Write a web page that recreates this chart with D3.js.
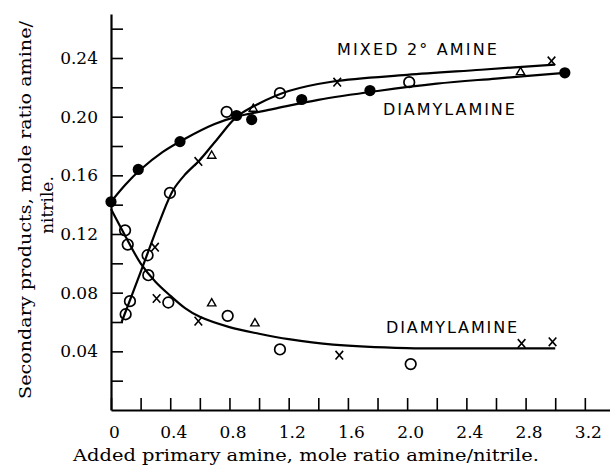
<!DOCTYPE html>
<html>
<head>
<meta charset="utf-8">
<script src="https://d3js.org/d3.v7.min.js"></script>
<style>
  body { margin: 0; background: #fff; }
  svg { display: block; }
</style>
</head>
<body>
<svg></svg>
<script>
// axis ticks
var xTickValues = [0, 0.2, 0.4, 0.6, 0.8, 1.0, 1.2, 1.4, 1.6, 1.8, 2.0, 2.2, 2.4, 2.6, 2.8, 3.0, 3.2];
var xTickLabels = ["0", "", "0.4", "", "0.8", "", "1.2", "", "1.6", "", "2.0", "", "2.4", "", "2.8", "", "3.2"];
var yTickValues = [0.02, 0.04, 0.06, 0.08, 0.10, 0.12, 0.14, 0.16, 0.18, 0.20, 0.22, 0.24, 0.26];
var yTickLabels = ["", "0.04", "", "0.08", "", "0.12", "", "0.16", "", "0.20", "", "0.24", ""];

// diamylamine (upper, filled circles)
var diaUpX = [0, 0.184, 0.466, 0.848, 0.95, 1.288, 1.749, 3.065];
var diaUpY = [0.142, 0.164, 0.183, 0.2008, 0.198, 0.2117, 0.2178, 0.2299];
var diaUpCurveX = [0, 0.1, 0.2, 0.35, 0.5, 0.7, 0.85, 1.1, 1.4, 1.8, 2.2, 2.6, 3.065];
var diaUpCurveY = [0.142, 0.154, 0.164, 0.176, 0.185, 0.195, 0.2, 0.2053, 0.2115, 0.2175, 0.2225, 0.226, 0.2299];

// mixed 2° amine (rising curve)
var mixCircleX = [0.099, 0.128, 0.247, 0.398, 0.781, 1.141, 2.014];
var mixCircleY = [0.0653, 0.0742, 0.1055, 0.148, 0.2033, 0.216, 0.2235];
var mixCrossX = [0.297, 0.59, 1.528, 2.975];
var mixCrossY = [0.111, 0.1695, 0.2235, 0.238];
var mixTriX = [0.68, 0.961, 2.766];
var mixTriY = [0.1733, 0.2053, 0.2303];
var mixCurveX = [0.072, 0.2, 0.33, 0.42, 0.5, 0.6, 0.72, 0.85, 1.0, 1.2, 1.5, 2.0, 2.5, 2.997];
var mixCurveY = [0.06, 0.094, 0.129, 0.15, 0.1605, 0.1705, 0.185, 0.2, 0.209, 0.2175, 0.224, 0.2285, 0.232, 0.2355];

// diamylamine (lower, falling curve)
var diaLowCircleX = [0.095, 0.113, 0.252, 0.387, 0.788, 1.141, 2.024];
var diaLowCircleY = [0.1225, 0.1128, 0.0919, 0.0733, 0.0642, 0.0413, 0.0313];
var diaLowCrossX = [0.308, 0.59, 1.542, 2.773, 2.982];
var diaLowCrossY = [0.076, 0.0606, 0.0374, 0.0454, 0.0465];
var diaLowTriX = [0.68, 0.972];
var diaLowTriY = [0.0726, 0.059];
var diaLowCurveX = [0, 0.1, 0.2, 0.3, 0.4, 0.5, 0.6, 0.8, 1.0, 1.2, 1.5, 2.0, 2.5, 3.0];
var diaLowCurveY = [0.137, 0.118, 0.1, 0.0875, 0.078, 0.0695, 0.0635, 0.0565, 0.052, 0.0483, 0.0446, 0.0422, 0.042, 0.042];

var curveLabels = ["MIXED 2° AMINE", "DIAMYLAMINE", "DIAMYLAMINE"];

var svgWidth = 610, svgHeight = 476;

var svg = d3.select("svg")
    .attr("width", svgWidth)
    .attr("height", svgHeight);

var x = d3.scaleLinear().domain([0, 3.37]).range([111, 610]);
var y = d3.scaleLinear().domain([0, 0.27]).range([410, 14]);

function pairs(xs, ys) {
    return xs.map(function(v, i) { return [v, ys[i]]; });
}

var serif = "'DejaVu Serif', serif";
var sans = "'DejaVu Sans', sans-serif";

// x axis, ticks pointing inwards
var xAxis = svg.append("g")
    .attr("transform", "translate(0," + y(0) + ")")
    .call(d3.axisBottom(x)
        .tickValues(xTickValues)
        .tickSize(-12)
        .tickSizeOuter(0)
        .tickPadding(16)
        .tickFormat(function(d, i) { return xTickLabels[i]; }));

xAxis.select(".domain").attr("stroke-width", 2.2);
xAxis.selectAll(".tick line").attr("stroke-width", 1.6);
xAxis.selectAll(".tick text")
    .attr("x", 3)
    .attr("font-family", serif)
    .attr("font-size", 17)
    .attr("fill", "#000");

// y axis
var yAxis = svg.append("g")
    .attr("transform", "translate(" + x(0) + ",0)")
    .call(d3.axisLeft(y)
        .tickValues(yTickValues)
        .tickSize(-12)
        .tickSizeOuter(0)
        .tickPadding(13)
        .tickFormat(function(d, i) { return yTickLabels[i]; }));

yAxis.select(".domain").attr("stroke-width", 2.2);
yAxis.selectAll(".tick line").attr("stroke-width", 1.6);
yAxis.selectAll(".tick text")
    .attr("font-family", serif)
    .attr("font-size", 17)
    .attr("fill", "#000");

// axis titles
svg.append("text")
    .attr("x", 306)
    .attr("y", 461)
    .attr("text-anchor", "middle")
    .attr("font-family", serif)
    .attr("font-size", 17)
    .attr("textLength", 466)
    .attr("lengthAdjust", "spacingAndGlyphs")
    .text("Added primary amine, mole ratio amine/nitrile.");

svg.append("text")
    .attr("transform", "translate(31,210) rotate(-90)")
    .attr("text-anchor", "middle")
    .attr("font-family", serif)
    .attr("font-size", 17)
    .attr("textLength", 378)
    .attr("lengthAdjust", "spacingAndGlyphs")
    .text("Secondary products, mole ratio amine/");

svg.append("text")
    .attr("transform", "translate(53,205) rotate(-90)")
    .attr("text-anchor", "middle")
    .attr("font-family", serif)
    .attr("font-size", 17)
    .text("nitrile.");

// curves
var line = d3.line()
    .x(function(d) { return x(d[0]); })
    .y(function(d) { return y(d[1]); })
    .curve(d3.curveCatmullRom.alpha(0.5));

[pairs(diaUpCurveX, diaUpCurveY), pairs(mixCurveX, mixCurveY), pairs(diaLowCurveX, diaLowCurveY)]
    .forEach(function(c) {
        svg.append("path")
            .attr("d", line(c))
            .attr("fill", "none")
            .attr("stroke", "#000")
            .attr("stroke-width", 2.2);
    });

// markers
var openCircles = pairs(mixCircleX, mixCircleY).concat(pairs(diaLowCircleX, diaLowCircleY));
svg.selectAll(".open")
    .data(openCircles)
    .enter()
    .append("circle")
    .attr("cx", function(d) { return x(d[0]); })
    .attr("cy", function(d) { return y(d[1]); })
    .attr("r", 5.3)
    .attr("fill", "none")
    .attr("stroke", "#000")
    .attr("stroke-width", 1.7);

svg.selectAll(".filled")
    .data(pairs(diaUpX, diaUpY))
    .enter()
    .append("circle")
    .attr("cx", function(d) { return x(d[0]); })
    .attr("cy", function(d) { return y(d[1]); })
    .attr("r", 5.6)
    .attr("fill", "#000");

var crosses = pairs(mixCrossX, mixCrossY).concat(pairs(diaLowCrossX, diaLowCrossY));
svg.selectAll(".cross")
    .data(crosses)
    .enter()
    .append("path")
    .attr("transform", function(d) { return "translate(" + x(d[0]) + "," + y(d[1]) + ")"; })
    .attr("d", "M-3.8,-4.3L3.8,4.3M-3.8,4.3L3.8,-4.3")
    .attr("stroke", "#000")
    .attr("stroke-width", 1.6);

var tris = pairs(mixTriX, mixTriY).concat(pairs(diaLowTriX, diaLowTriY));
svg.selectAll(".tri")
    .data(tris)
    .enter()
    .append("path")
    .attr("transform", function(d) { return "translate(" + x(d[0]) + "," + y(d[1]) + ")"; })
    .attr("d", d3.symbol(d3.symbolTriangle).size(30))
    .attr("fill", "none")
    .attr("stroke", "#000")
    .attr("stroke-width", 1.4);

// curve labels
var labelAt = [[2.066, 0.2423, 160], [2.282, 0.2008, 132], [2.30, 0.0524, 131]];
curveLabels.forEach(function(t, i) {
    svg.append("text")
        .attr("x", x(labelAt[i][0]))
        .attr("y", y(labelAt[i][1]))
        .attr("text-anchor", "middle")
        .attr("font-family", sans)
        .attr("font-size", 16)
        .attr("textLength", labelAt[i][2])
        .attr("lengthAdjust", "spacing")
        .text(t);
});
</script>
</body>
</html>
